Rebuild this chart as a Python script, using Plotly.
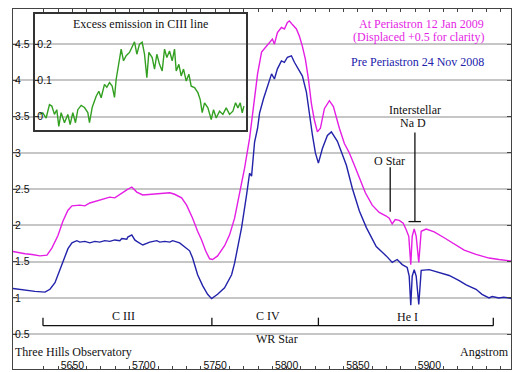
import plotly.graph_objects as go

# ---- data ----
wl_pre = [5608.4, 5612.0, 5616.8, 5623.8, 5630.8, 5634.3, 5637.8, 5641.3, 5644.8, 5646.9,
          5649.7, 5653.1, 5655.2, 5658.7, 5662.2, 5665.7, 5669.2, 5672.7, 5676.2, 5679.7,
          5683.2, 5684.6, 5688.1, 5688.8, 5691.6, 5693.7, 5695.1, 5697.2, 5699.3, 5704.2,
          5709.1, 5711.2, 5714.7, 5718.2, 5720.2, 5725.1, 5728.6, 5732.1, 5734.2, 5737.7,
          5741.2, 5744.7, 5747.5, 5751.7, 5756.6, 5761.5, 5763.6, 5765.7, 5768.5, 5772.0,
          5774.1, 5775.5, 5777.6, 5779.7, 5781.1, 5783.9, 5786.0, 5789.5, 5791.5, 5793.6,
          5796.4, 5798.5, 5800.6, 5803.4, 5805.5, 5809.0, 5811.1, 5813.9, 5816.0, 5818.1,
          5820.2, 5822.3, 5825.1, 5828.6, 5831.4, 5835.6, 5839.1, 5841.9, 5846.1, 5851.0,
          5855.9, 5862.8, 5869.8, 5874.0, 5877.5, 5881.0, 5884.5, 5885.9, 5887.0, 5888.0,
          5889.4, 5890.8, 5892.6, 5893.6, 5894.3, 5899.9, 5906.9, 5913.9, 5920.9, 5925.8,
          5932.7, 5936.9, 5941.8, 5944.0, 5948.8, 5952.0, 5955.8, 5957.2]
flux_pre = [1.13, 1.12, 1.11, 1.09, 1.08, 1.12, 1.21, 1.39, 1.58, 1.68,
            1.76, 1.79, 1.77, 1.78, 1.76, 1.78, 1.77, 1.79, 1.78, 1.80,
            1.79, 1.82, 1.81, 1.84, 1.87, 1.80, 1.78, 1.76, 1.73, 1.77,
            1.79, 1.77, 1.78, 1.77, 1.79, 1.76, 1.71, 1.65, 1.55, 1.32,
            1.17, 1.05, 0.99, 1.05, 1.14, 1.32, 1.48, 1.70, 1.97, 2.42,
            2.72, 2.68, 3.15, 3.34, 3.55, 3.75, 3.88, 4.09, 4.02, 4.16,
            4.27, 4.25, 4.32, 4.34, 4.25, 4.13, 4.06, 3.84, 3.51, 3.25,
            3.00, 2.86, 3.06, 3.24, 3.29, 3.16, 2.98, 2.83, 2.51, 2.20,
            1.97, 1.71, 1.58, 1.49, 1.53, 1.46, 1.42, 1.30, 0.90, 1.30,
            1.39, 1.30, 0.91, 1.30, 1.38, 1.39, 1.35, 1.31, 1.24, 1.18,
            1.12, 1.05, 1.00, 1.02, 1.00, 1.01, 1.00, 0.99]

wl_peri = [5608.4, 5613.3, 5616.8, 5621.7, 5627.3, 5632.2, 5635.7, 5639.9, 5643.4, 5646.9,
           5649.7, 5655.2, 5658.7, 5662.2, 5669.2, 5676.2, 5679.7, 5683.2, 5688.1, 5691.6,
           5695.1, 5699.3, 5704.2, 5711.2, 5718.2, 5721.6, 5726.5, 5730.0, 5734.2, 5737.7,
           5740.5, 5743.3, 5746.1, 5748.2, 5751.7, 5756.6, 5760.1, 5763.6, 5767.1, 5770.6,
           5774.1, 5777.6, 5779.7, 5782.5, 5786.0, 5788.1, 5790.1, 5791.5, 5793.6, 5796.4,
           5798.5, 5800.6, 5802.0, 5804.1, 5806.9, 5809.0, 5811.1, 5813.2, 5815.3, 5817.4,
           5819.5, 5821.6, 5823.7, 5826.5, 5830.0, 5832.8, 5837.0, 5840.5, 5844.0, 5847.5,
           5851.0, 5855.2, 5860.0, 5864.9, 5869.8, 5871.9, 5874.0, 5876.1, 5878.9, 5881.7,
           5883.8, 5885.6, 5887.0, 5888.0, 5889.4, 5890.8, 5892.6, 5893.6, 5894.3, 5897.8,
           5903.4, 5910.4, 5917.4, 5924.4, 5932.7, 5941.8, 5948.8, 5955.8, 5957.2]
flux_peri = [1.64, 1.62, 1.61, 1.60, 1.58, 1.59, 1.69, 1.86, 2.06, 2.21,
             2.27, 2.28, 2.27, 2.31, 2.35, 2.39, 2.38, 2.43, 2.49, 2.53,
             2.46, 2.42, 2.43, 2.44, 2.45, 2.43, 2.38, 2.28, 2.10, 1.92,
             1.80, 1.65, 1.54, 1.53, 1.58, 1.72, 1.87, 2.10, 2.45, 2.79,
             3.20, 3.75, 4.09, 4.39, 4.47, 4.53, 4.57, 4.50, 4.66, 4.73,
             4.71, 4.80, 4.82, 4.77, 4.71, 4.61, 4.47, 4.29, 4.02, 3.68,
             3.45, 3.29, 3.34, 3.61, 3.72, 3.64, 3.34, 3.13, 3.00, 2.83,
             2.65, 2.45, 2.28, 2.18, 2.13, 2.10, 2.02, 2.08, 2.07, 2.03,
             1.94, 1.85, 1.46, 1.85, 1.95, 1.85, 1.49, 1.85, 1.92, 1.95,
             1.91, 1.83, 1.75, 1.66, 1.60, 1.55, 1.53, 1.51, 1.51]

wl_inset = [5640.0, 5642.0, 5644.0, 5646.0, 5647.4, 5649.0, 5650.4, 5651.6, 5653.0, 5655.0,
            5657.0, 5658.4, 5660.0, 5661.6, 5663.0, 5665.0, 5667.0, 5669.0, 5670.0, 5671.6,
            5674.0, 5675.6, 5677.0, 5679.0, 5680.4, 5682.0, 5683.6, 5685.0, 5686.0, 5687.6,
            5689.0, 5690.4, 5692.0, 5694.0, 5695.6, 5697.0, 5698.4, 5700.0, 5701.6, 5703.0,
            5704.4, 5705.6, 5707.6, 5709.0, 5710.4, 5712.0, 5713.6, 5715.0, 5716.4, 5718.0,
            5719.6, 5721.0, 5722.0, 5723.6, 5725.0, 5726.4, 5728.0, 5729.6, 5731.0, 5733.0,
            5735.0, 5736.4, 5737.6, 5739.0, 5741.0, 5743.0, 5744.4, 5746.0, 5748.0, 5750.0,
            5752.0, 5754.0, 5756.0, 5757.6, 5759.0, 5760.4, 5761.6, 5762.6]
excess = [0.006, 0.010, -0.004, 0.033, 0.029, 0.006, 0.019, -0.027, 0.011, -0.017,
          0.006, -0.022, 0.011, -0.017, 0.019, 0.031, 0.025, 0.011, -0.017, 0.025,
          0.056, 0.070, 0.052, 0.089, 0.081, 0.094, 0.084, 0.053, 0.103, 0.144,
          0.186, 0.154, 0.168, 0.177, 0.195, 0.206, 0.172, 0.200, 0.205, 0.172,
          0.107, 0.177, 0.163, 0.131, 0.172, 0.144, 0.126, 0.186, 0.163, 0.181,
          0.154, 0.186, 0.126, 0.144, 0.112, 0.131, 0.098, 0.117, 0.084, 0.080,
          0.066, 0.047, 0.011, 0.038, 0.024, -0.008, 0.019, -0.004, 0.015, 0.006,
          0.024, 0.006, 0.015, 0.038, 0.024, 0.038, 0.010, 0.029]

x_ticks = [5650, 5700, 5750, 5800, 5850, 5900, 5950]

MAGENTA = "#e41ee4"
BLUE = "#2222aa"
GREEN = "#33a022"
SERIF = "Liberation Serif, Times New Roman, serif"
SANS = "Liberation Sans, Arial, sans-serif"

fig = go.Figure()
fig.add_trace(go.Scatter(x=wl_peri, y=flux_peri, mode="lines",
                         line=dict(color=MAGENTA, width=1.4), showlegend=False))
fig.add_trace(go.Scatter(x=wl_pre, y=flux_pre, mode="lines",
                         line=dict(color=BLUE, width=1.4), showlegend=False))
fig.add_trace(go.Scatter(x=wl_inset, y=excess, mode="lines", xaxis="x2", yaxis="y2",
                         line=dict(color=GREEN, width=1.4), showlegend=False))

axcol = "#444444"
fig.update_layout(
    width=513, height=372,
    margin=dict(l=13, r=1, t=9, b=1),
    paper_bgcolor="white", plot_bgcolor="rgba(0,0,0,0)",
    xaxis=dict(range=[5608.4, 5957.2], tickvals=x_ticks, ticks="inside", ticklen=3,
               tickcolor=axcol, ticklabelposition="inside", ticklabelstandoff=-6,
               tickfont=dict(family=SANS, size=10.5, color="#111"),
               minor=dict(dtick=10, tick0=5600, ticks="inside", ticklen=3, tickcolor=axcol),
               showline=True, linecolor=axcol, linewidth=1, mirror="ticks",
               showgrid=False, zeroline=False),
    yaxis=dict(range=[0.02, 4.985], tick0=0.5, dtick=0.5, ticks="inside", ticklen=4,
               tickcolor=axcol, ticklabelposition="inside", ticklabelstandoff=-3,
               tickfont=dict(family=SANS, size=10.5, color="#111"),
               showline=True, linecolor=axcol, linewidth=1, mirror="ticks",
               showgrid=True, gridcolor="#c6c6c6", gridwidth=1.5, zeroline=False),
    xaxis2=dict(domain=[0.0451, 0.467], anchor="y2", range=[5637.6, 5763.6],
                showticklabels=False, ticks="", showline=True, mirror=True,
                linecolor="#333333", linewidth=2, showgrid=False, zeroline=False),
    yaxis2=dict(domain=[0.663, 0.9854], anchor="x2", range=[-0.0379, 0.2823],
                dtick=0.1, tick0=0, ticks="inside", ticklen=4, tickcolor="#333",
                ticklabelposition="inside", ticklabelstandoff=-3,
                tickfont=dict(family=SANS, size=10.5, color="#111"),
                showline=True, mirror=True, linecolor="#333333", linewidth=2,
                showgrid=True, gridcolor="#c6c6c6", gridwidth=1.5, zeroline=False),
)

def txt(x, y, s, color="#111", xanchor="center", xref="x", yref="y", size=12):
    fig.add_annotation(x=x, y=y, xref=xref, yref=yref, text=s, showarrow=False,
                       xanchor=xanchor, yanchor="middle",
                       font=dict(family=SERIF, size=size, color=color))

txt(5939.9, 4.778, "At Periastron 12 Jan 2009", MAGENTA, xanchor="right")
txt(5939.9, 4.596, "(Displaced +0.5 for clarity)", MAGENTA, xanchor="right")
txt(5939.9, 4.261, "Pre Periastron 24 Nov 2008", BLUE, xanchor="right")
txt(5889.9, 3.599, "Interstellar")
txt(5888.7, 3.407, "Na D")
txt(5871.9, 2.890, "O Star")
txt(5685.9, 0.750, "C III")
txt(5786.9, 0.755, "C IV")
txt(5885.0, 0.741, "He I")
txt(5793.6, 0.434, "WR Star")
txt(5608.6, 0.261, "Three Hills Observatory", xanchor="left")
txt(5957.0, 0.252, "Angstrom", xanchor="right")
txt(5700.8, 0.2557, "Excess emission in CIII line", xref="x2", yref="y2")

line_style = dict(color="#111", width=1.3)
# Na D pointer
fig.add_shape(type="line", x0=5889.9, x1=5889.9, y0=3.283, y1=2.053, line=line_style)
fig.add_shape(type="line", x0=5885.4, x1=5894.1, y0=2.053, y1=2.053, line=line_style)
# O Star pointer
fig.add_shape(type="line", x0=5872.6, x1=5872.6, y0=2.803, y1=2.190, line=line_style)
# Bracket for line regions
fig.add_shape(type="line", x0=5629.4, x1=5944.8, y0=0.618, y1=0.618, line=line_style)
for bx in [5629.4, 5747.7, 5822.3, 5944.8]:
    fig.add_shape(type="line", x0=bx, x1=bx, y0=0.618, y1=0.728, line=line_style)

fig.write_html("out.html")
